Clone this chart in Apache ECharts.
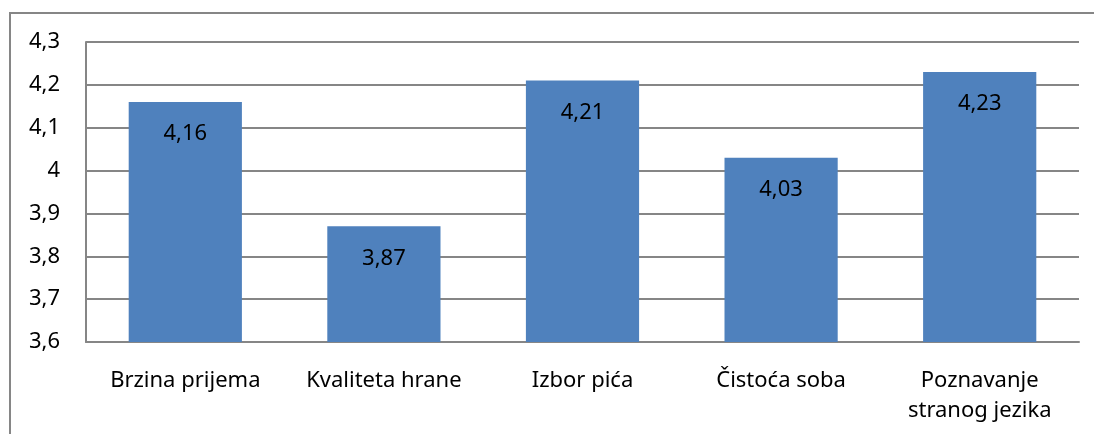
<!DOCTYPE html>
<html>
<head>
<meta charset="utf-8">
<script src="https://cdn.jsdelivr.net/npm/echarts@6/dist/echarts.min.js"></script>
<style>
  html, body { margin: 0; padding: 0; background: #fff; }
  #chart { width: 1094px; height: 434px; }
</style>
</head>
<body>
<div id="chart"></div>
<script>
const categories = ['Brzina prijema', 'Kvaliteta hrane', 'Izbor pića', 'Čistoća soba', 'Poznavanje\nstranog jezika']
const values = [4.16, 3.87, 4.21, 4.03, 4.23]

const fmt = v => String(v).replace('.', ',')

const chart = echarts.init(document.getElementById('chart'))

chart.setOption({
  animation: false,
  textStyle: { fontFamily: '"Noto Sans", "Open Sans", sans-serif' },
  graphic: [
    {
      type: 'polyline',
      shape: { points: [[10, 440], [10, 13], [1100, 13]] },
      style: { stroke: '#868686', lineWidth: 2, fill: null }
    }
  ],
  grid: {
    left: 86,
    right: 15,
    top: 42,
    bottom: 92
  },
  xAxis: {
    type: 'category',
    data: categories,
    axisLine: { show: true, lineStyle: { color: '#868686', width: 2 } },
    axisTick: { show: false },
    axisLabel: {
      color: '#000',
      fontSize: 22,
      margin: 24,
      lineHeight: 30,
      interval: 0
    }
  },
  yAxis: {
    type: 'value',
    min: 3.6,
    max: 4.3,
    interval: 0.1,
    axisLine: { show: true, lineStyle: { color: '#868686', width: 2 } },
    axisTick: { show: false },
    axisLabel: {
      color: '#000',
      fontSize: 22,
      margin: 26,
      formatter: v => fmt(Math.round(v * 10) / 10)
    },
    splitLine: { lineStyle: { color: '#868686', width: 2 } }
  },
  series: [
    {
      type: 'bar',
      data: values,
      barWidth: '57%',
      itemStyle: { color: '#4F81BD' },
      label: {
        show: true,
        position: 'insideTop',
        distance: 21,
        color: '#000',
        fontSize: 22,
        formatter: p => fmt(p.value)
      }
    }
  ]
})
</script>
</body>
</html>
